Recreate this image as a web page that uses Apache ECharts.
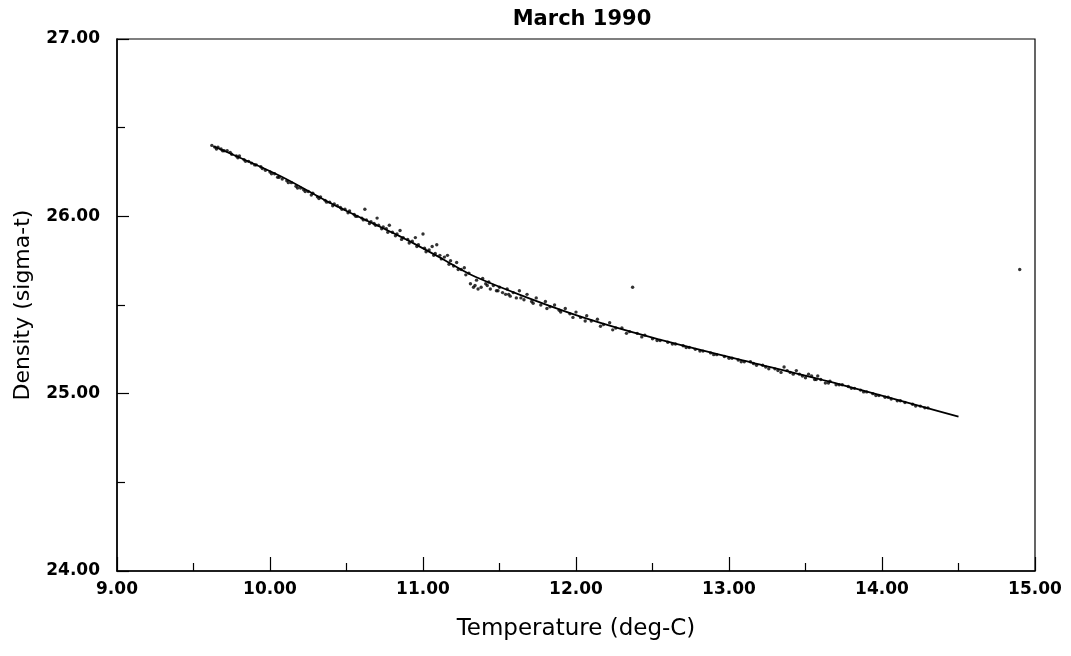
<!DOCTYPE html>
<html>
<head>
<meta charset="utf-8">
<script src="https://cdn.jsdelivr.net/npm/echarts@6/dist/echarts.min.js"></script>
<style>html,body{margin:0;padding:0;background:#fff}#c{width:1071px;height:656px}</style>
</head>
<body>
<div id="c"></div>
<script>
// Tick settings
const xTicks = [9, 10, 11, 12, 13, 14, 15];
const yTicks = [24, 25, 26, 27];

// Fitted curve (Temperature, Density)
const curveT = [9.63, 10.07, 10.41, 10.85, 11.11, 11.31, 11.63, 12.03, 12.50, 13.07, 13.73, 14.50];
const curveD = [26.395, 26.226, 26.068, 25.887, 25.768, 25.672, 25.559, 25.435, 25.316, 25.192, 25.051, 24.870];

// Observed samples [Temperature, Density]
const samples = [
[9.62,26.40],[9.64,26.39],[9.66,26.39],[9.68,26.38],[9.70,26.37],[9.72,26.37],[9.75,26.35],[9.78,26.34],[9.80,26.34],[9.83,26.32],
[9.86,26.31],[9.88,26.30],[9.91,26.29],[9.94,26.28],[9.97,26.26],[10.00,26.25],[10.03,26.24],[10.05,26.22],[10.08,26.21],[10.11,26.20],
[10.14,26.19],[10.17,26.17],[10.20,26.16],[10.22,26.15],[10.25,26.14],[10.28,26.13],[10.31,26.11],[10.33,26.11],[10.36,26.09],[10.39,26.08],
[10.42,26.07],[10.44,26.06],[10.46,26.05],[10.49,26.04],[10.52,26.03],[10.55,26.01],[10.57,26.00],[10.60,25.99],[10.62,26.04],[10.63,25.98],
[10.66,25.97],[10.68,25.96],[10.70,25.99],[10.71,25.95],[10.74,25.94],[10.76,25.93],[10.78,25.95],[10.80,25.91],[10.83,25.90],[10.85,25.92],
[10.87,25.88],[10.90,25.87],[10.93,25.86],[10.95,25.88],[10.97,25.84],[11.00,25.90],[11.01,25.82],[11.04,25.81],[11.06,25.83],[11.08,25.79],
[11.09,25.84],[11.11,25.78],[11.14,25.77],[11.16,25.78],[11.18,25.75],[11.20,25.72],[11.22,25.74],[11.25,25.70],[11.27,25.71],[11.30,25.68],
[11.31,25.62],[11.33,25.60],[11.34,25.61],[11.36,25.59],[11.38,25.60],[11.39,25.65],[11.41,25.62],[11.43,25.63],[11.44,25.59],[11.46,25.61],
[11.48,25.58],[11.50,25.60],[11.52,25.57],[11.54,25.56],[11.55,25.59],[11.57,25.55],[11.59,25.57],[11.61,25.54],[11.63,25.58],[11.66,25.53],
[11.68,25.56],[11.71,25.52],[11.74,25.54],[11.77,25.50],[11.80,25.52],[11.83,25.49],[11.86,25.50],[11.89,25.47],[11.93,25.48],[11.96,25.45],
[12.00,25.46],[12.03,25.43],[12.07,25.44],[12.10,25.41],[12.14,25.42],[12.18,25.39],[12.22,25.40],[12.26,25.37],[12.30,25.37],[12.35,25.35],
[12.37,25.60],[12.40,25.34],[12.45,25.33],[12.50,25.31],[12.55,25.30],[12.60,25.29],[12.65,25.28],[12.70,25.27],[12.74,25.26],[12.78,25.25],
[12.83,25.24],[12.88,25.23],[12.92,25.22],[12.97,25.21],[13.02,25.20],[13.06,25.19],[13.10,25.18],[13.14,25.18],[13.18,25.16],[13.22,25.16],
[13.26,25.14],[13.30,25.14],[13.34,25.12],[13.38,25.13],[13.42,25.11],[13.46,25.11],[13.50,25.09],[13.54,25.10],[13.57,25.08],[13.60,25.08],
[13.63,25.06],[13.66,25.07],[13.70,25.05],[13.74,25.05],[13.78,25.04],[13.82,25.03],[13.86,25.02],[13.90,25.01],[13.94,25.00],[13.98,24.99],
[14.02,24.98],[14.06,24.97],[14.10,24.96],[14.15,24.95],[14.20,24.94],[14.25,24.93],[14.30,24.92],[14.90,25.70],
[9.65,26.38],[9.69,26.37],[9.74,26.36],[9.79,26.33],[9.84,26.31],[9.90,26.29],[9.95,26.27],[10.01,26.24],[10.06,26.22],[10.12,26.19],
[10.18,26.16],[10.23,26.14],[10.27,26.12],[10.32,26.10],[10.37,26.08],[10.41,26.06],[10.47,26.04],[10.51,26.02],[10.56,26.00],[10.61,25.98],
[10.65,25.96],[10.69,25.95],[10.73,25.93],[10.77,25.91],[10.82,25.89],[10.86,25.87],[10.91,25.85],[10.96,25.83],[11.02,25.80],[11.07,25.78],
[11.12,25.76],[11.17,25.73],[11.23,25.70],[11.28,25.67],[11.35,25.64],[11.42,25.61],[11.49,25.58],[11.56,25.56],[11.64,25.54],[11.72,25.51],
[11.81,25.48],[11.90,25.46],[11.98,25.43],[12.06,25.41],[12.16,25.38],[12.24,25.36],[12.33,25.34],[12.43,25.32],[12.53,25.30],[12.63,25.28],
[12.72,25.26],[12.81,25.24],[12.90,25.22],[13.00,25.20],[13.08,25.18],[13.16,25.17],[13.24,25.15],[13.32,25.13],[13.40,25.12],[13.48,25.10],
[13.56,25.08],[13.65,25.06],[13.72,25.05],[13.80,25.03],[13.88,25.01],[13.96,24.99],[14.04,24.98],[14.12,24.96],[14.22,24.93],[14.28,24.92],
[13.36,25.15],[13.44,25.13],[13.52,25.11],[13.58,25.10]
];

const curve = curveT.map((t, i) => [t, curveD[i]]);
const FONT = '"DejaVu Sans", Arial, sans-serif';

const chart = echarts.init(document.getElementById('c'), null, {renderer: 'canvas'});
chart.setOption({
  animation: false,
  backgroundColor: '#fff',
  title: {
    text: 'March 1990', left: 577, top: 4, textAlign: 'center',
    textStyle: {fontFamily: FONT, fontWeight: 'bold', fontSize: 21, color: '#000'}
  },
  grid: {left: 117, right: 36, top: 39, bottom: 85, show: true, borderColor: '#000', borderWidth: 1.2, backgroundColor: 'transparent'},
  xAxis: {
    type: 'value', min: xTicks[0], max: xTicks[xTicks.length - 1], interval: 1,
    name: 'Temperature (deg-C)', nameLocation: 'middle', nameGap: 47,
    nameTextStyle: {fontFamily: FONT, fontSize: 23, color: '#000'},
    axisLine: {lineStyle: {color: '#000', width: 1.5}},
    axisTick: {inside: true, length: 14, lineStyle: {color: '#000', width: 1.2}},
    minorTick: {show: true, splitNumber: 2, length: 8, lineStyle: {color: '#000', width: 1.2}},
    splitLine: {show: false},
    axisLabel: {margin: 10, fontFamily: FONT, fontWeight: 'bold', fontSize: 17, color: '#000', formatter: v => v.toFixed(2)}
  },
  yAxis: {
    type: 'value', min: yTicks[0], max: yTicks[yTicks.length - 1], interval: 1,
    name: 'Density (sigma-t)', nameLocation: 'middle', nameGap: 83, nameRotate: 90,
    nameTextStyle: {fontFamily: FONT, fontSize: 22, color: '#000'},
    axisLine: {lineStyle: {color: '#000', width: 1.5}},
    axisTick: {inside: true, length: 12, lineStyle: {color: '#000', width: 1.2}},
    minorTick: {show: true, splitNumber: 2, length: 8, lineStyle: {color: '#000', width: 1.2}},
    splitLine: {show: false},
    axisLabel: {margin: 17, fontFamily: FONT, fontWeight: 'bold', fontSize: 17, color: '#000', formatter: v => v.toFixed(2)}
  },
  series: [
    {type: 'scatter', data: samples, symbol: 'circle', symbolSize: 3.4, itemStyle: {color: '#000'}, z: 2},
    {type: 'line', data: curve, smooth: 0.3, symbol: 'none', lineStyle: {color: '#000', width: 1.8}, z: 3}
  ]
});
</script>
</body>
</html>
